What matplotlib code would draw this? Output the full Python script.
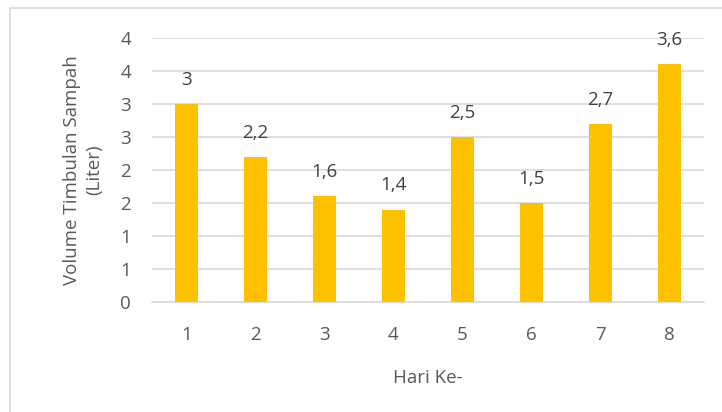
import matplotlib.pyplot as plt
from matplotlib.patches import Rectangle

# daily waste volume per day
hari = [1, 2, 3, 4, 5, 6, 7, 8]
volume = [3.0, 2.2, 1.6, 1.4, 2.5, 1.5, 2.7, 3.6]
label_volume = ["3", "2,2", "1,6", "1,4", "2,5", "1,5", "2,7", "3,6"]
y_ticks = [0, 0.5, 1, 1.5, 2, 2.5, 3, 3.5, 4]
y_tick_labels = ["0", "1", "1", "2", "2", "3", "3", "4", "4"]

BAR_COLOR = "#FFC000"
TEXT_COLOR = "#595959"
GRID_COLOR = "#D9D9D9"

plt.rcParams['font.family'] = ['Open Sans', 'DejaVu Sans']

W, H = 722, 412
fig = plt.figure(figsize=(W / 100, H / 100), dpi=100)

# chart border
fig.patches.append(Rectangle((10 / W, -0.1), 1.2, 1 - 8 / H + 0.1,
                             transform=fig.transFigure, fill=False,
                             edgecolor="#D9D9D9", linewidth=1.2))

ax = fig.add_axes([152 / W, 1 - 302 / H, 552 / W, 264 / H])
x = range(len(hari))
ax.bar(x, volume, width=0.32, color=BAR_COLOR, zorder=3)

for i, (v, lbl) in enumerate(zip(volume, label_volume)):
    ax.annotate(lbl, (i, v), xytext=(0, 11), textcoords="offset points",
                ha="center", va="bottom", fontsize=13.5, color="#404040")

ax.set_xlim(-0.5, len(hari) - 0.5)
ax.set_ylim(0, 4)
ax.set_yticks(y_ticks)
ax.set_yticklabels(y_tick_labels)
ax.set_xticks(list(x))
ax.set_xticklabels([str(h) for h in hari])
ax.tick_params(axis="both", length=0, labelsize=13.5, colors=TEXT_COLOR)
ax.tick_params(axis="x", pad=17)
ax.tick_params(axis="y", pad=15)

ax.grid(axis="y", color=GRID_COLOR, linewidth=1.2, zorder=0)
for s in ["top", "right", "left"]:
    ax.spines[s].set_visible(False)
ax.spines["bottom"].set_color(GRID_COLOR)
ax.spines["bottom"].set_linewidth(1.2)

ax.set_xlabel("Hari Ke-", fontsize=13.5, color=TEXT_COLOR, labelpad=18)
ax.set_ylabel("Volume Timbulan Sampah\n(Liter)", fontsize=13.5,
              color=TEXT_COLOR, labelpad=12, linespacing=1.35)

fig.savefig("out.png", dpi=100)
